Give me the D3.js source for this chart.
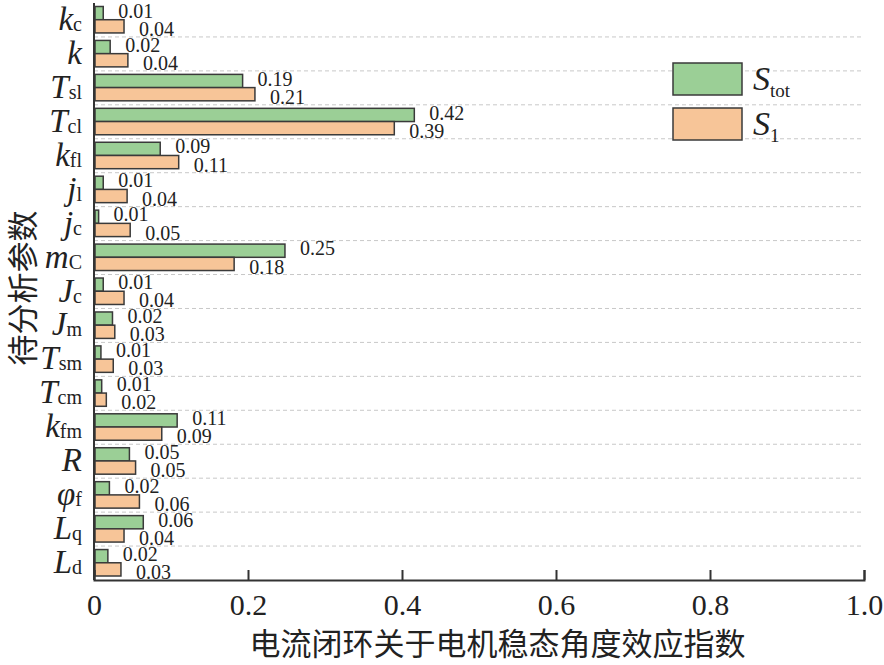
<!DOCTYPE html>
<html>
<head>
<meta charset="utf-8">
<script src="https://cdn.jsdelivr.net/npm/d3@7"></script>
<style>
  body { margin: 0; background: #fff; }
  svg text { font-family: "Liberation Serif", "Times New Roman", serif; fill: #222; }
  svg text.cjk { font-family: "Noto Sans CJK SC", sans-serif; }
</style>
</head>
<body>
<div id="chart"></div>
<script>
// parameter names: main letter (italic), subscript
const params = [
  ["k", "c"], ["k", ""], ["T", "sl"], ["T", "cl"], ["k", "fl"], ["j", "l"], ["j", "c"],
  ["m", "C"], ["J", "c"], ["J", "m"], ["T", "sm"], ["T", "cm"], ["k", "fm"], ["R", ""],
  ["φ", "f"], ["L", "q"], ["L", "d"]
]
// bar lengths
const sTot = [0.012, 0.021, 0.193, 0.416, 0.086, 0.012, 0.006, 0.248, 0.012, 0.024, 0.009, 0.010, 0.108, 0.046, 0.020, 0.064, 0.018]
const s1   = [0.039, 0.044, 0.209, 0.390, 0.110, 0.043, 0.047, 0.182, 0.039, 0.027, 0.025, 0.016, 0.088, 0.054, 0.059, 0.039, 0.035]
// printed labels
const sTotLabels = ["0.01", "0.02", "0.19", "0.42", "0.09", "0.01", "0.01", "0.25", "0.01", "0.02", "0.01", "0.01", "0.11", "0.05", "0.02", "0.06", "0.02"]
const s1Labels   = ["0.04", "0.04", "0.21", "0.39", "0.11", "0.04", "0.05", "0.18", "0.04", "0.03", "0.03", "0.02", "0.09", "0.05", "0.06", "0.04", "0.03"]
const xTicks = [0, 0.2, 0.4, 0.6, 0.8, 1.0]
const series = [
  { key: "tot", values: sTot, labels: sTotLabels, color: "#9bcf96" },
  { key: "1", values: s1, labels: s1Labels, color: "#f7c598" }
]

const width = 884, height = 665
const plotLeft = 94, plotRight = 864, plotTop = 3, plotBottom = 580

const svg = d3.select("#chart").append("svg")
  .attr("width", width).attr("height", height)

const x = d3.scaleLinear().domain([0, 1]).range([plotLeft, plotRight])
const y = d3.scaleBand().domain(d3.range(params.length)).range([plotTop, plotBottom])
const ySub = d3.scaleBand().domain(series.map(s => s.key))
  .range([3.5, y.bandwidth() - 4])

// dashed gridlines between rows
svg.append("g").selectAll("line")
  .data(d3.range(1, params.length))
  .join("line")
    .attr("x1", plotLeft).attr("x2", plotRight)
    .attr("y1", i => y(i)).attr("y2", i => y(i))
    .attr("stroke", "#c8c8c8").attr("stroke-width", 1)
    .attr("stroke-dasharray", "4,3")

// bars
const rows = svg.append("g").selectAll("g")
  .data(d3.range(params.length))
  .join("g")
    .attr("transform", i => `translate(0,${y(i)})`)

rows.selectAll("rect")
  .data(i => series.map(s => ({ s, v: s.values[i] })))
  .join("rect")
    .attr("x", x(0) + 1)
    .attr("y", d => ySub(d.s.key))
    .attr("width", d => x(d.v) - x(0) - 1)
    .attr("height", ySub.bandwidth())
    .attr("fill", d => d.s.color)
    .attr("stroke", "#3a3a3a").attr("stroke-width", 1.5)

// value labels
rows.selectAll("text.val")
  .data(i => series.map((s, k) => ({ s, v: s.values[i], t: s.labels[i], k })))
  .join("text")
    .attr("class", "val")
    .attr("x", d => x(d.v) + 15)
    .attr("y", d => ySub(d.s.key) + ySub.bandwidth() + (d.k === 0 ? -2 : 3))
    .attr("font-size", 20)
    .text(d => d.t)

// y tick labels
const yl = svg.append("g").selectAll("text")
  .data(params)
  .join("text")
    .attr("x", 82)
    .attr("y", (d, i) => y(i) + 27)
    .attr("text-anchor", "end")
    .attr("font-size", 33)
yl.append("tspan").attr("font-style", "italic").text(d => d[0])
yl.append("tspan").attr("font-size", 20).attr("dy", 1).text(d => d[1])

// axes
svg.append("line")
  .attr("x1", plotLeft).attr("x2", plotLeft).attr("y1", plotTop).attr("y2", plotBottom)
  .attr("stroke", "#333").attr("stroke-width", 2)

const xAxis = svg.append("g")
  .attr("transform", `translate(0,${plotBottom})`)
  .call(d3.axisBottom(x).tickValues(xTicks).tickSize(-10).tickPadding(14)
    .tickFormat(d => d === 0 ? "0" : d3.format(".1f")(d)))
xAxis.attr("font-family", null)
xAxis.select(".domain").attr("stroke", "#333").attr("stroke-width", 2)
xAxis.selectAll(".tick line").attr("stroke", "#333").attr("stroke-width", 2)
xAxis.selectAll(".tick text")
  .attr("font-size", 30).attr("fill", "#222")
  .attr("dy", "0.71em")

// axis titles
svg.append("text")
  .attr("class", "cjk")
  .attr("x", (233 + 762) / 2).attr("y", 655)
  .attr("text-anchor", "middle")
  .attr("font-size", 31)
  .text("电流闭环关于电机稳态角度效应指数")

svg.append("text")
  .attr("class", "cjk")
  .attr("transform", `translate(34,288) rotate(-90)`)
  .attr("text-anchor", "middle")
  .attr("font-size", 31)
  .text("待分析参数")

// legend
const legend = svg.append("g").attr("transform", "translate(673,63)")
legend.selectAll("rect")
  .data(series)
  .join("rect")
    .attr("x", 0).attr("y", (d, i) => i * 45)
    .attr("width", 69).attr("height", 32)
    .attr("fill", d => d.color)
    .attr("stroke", "#3a3a3a").attr("stroke-width", 1.5)
const lt = legend.selectAll("text")
  .data(series)
  .join("text")
    .attr("x", 80).attr("y", (d, i) => i * 45 + 27)
    .attr("font-size", 34)
lt.append("tspan").attr("font-style", "italic").text("S")
lt.append("tspan").attr("font-size", 19).attr("dy", 7).text(d => d.key)
</script>
</body>
</html>
